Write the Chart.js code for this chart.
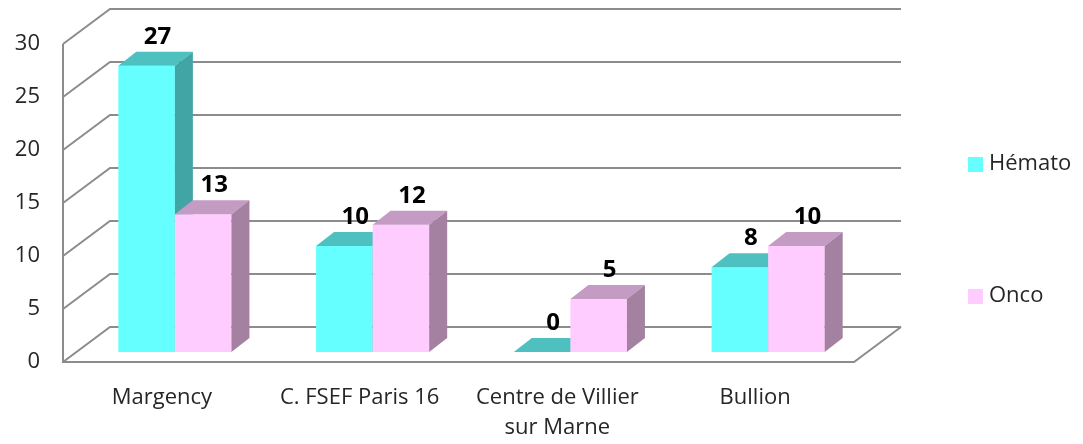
<!DOCTYPE html>
<html>
<head>
<meta charset="utf-8">
<script src="https://cdn.jsdelivr.net/npm/chart.js@4/dist/chart.umd.min.js"></script>
<style>
  html, body { margin: 0; padding: 0; background: #fff; }
  #wrap { width: 1083px; height: 444px; }
</style>
</head>
<body>
<div id="wrap"><canvas id="c" width="1083" height="444"></canvas></div>
<script>
const categories = ['Margency', 'C. FSEF Paris 16', ['Centre de Villier', 'sur Marne'], 'Bullion'];
const hemato = [27, 10, 0, 8];
const onco = [13, 12, 5, 10];
const yTicks = [0, 5, 10, 15, 20, 25, 30];

const FONT = '"Open Sans", "Noto Sans", sans-serif';

// 3d look
const wallDx = 47, wallDy = 35;     // depth of the walls
const barOffX = 13, barOffY = 10;   // bars sit a bit inside the box
const barDx = 18, barDy = 14;       // depth of each bar

const seriesStyle = [
    { front: '#66ffff', top: '#4ec0c0', side: '#41a5a5' },
    { front: '#ffccff', top: '#c39bc3', side: '#a481a1' }
];

const box3d = {
    id: 'box3d',
    beforeDatasetsDraw(chart) {
        const { ctx, chartArea: a, scales: { y } } = chart;
        ctx.save();
        ctx.strokeStyle = '#8c8c8c';
        ctx.lineWidth = 2;
        ctx.lineJoin = 'miter';
        yTicks.forEach(v => {
            const yf = y.getPixelForValue(v);
            ctx.beginPath();
            ctx.moveTo(a.left, yf);
            ctx.lineTo(a.left + wallDx, yf - wallDy);
            ctx.lineTo(a.right + wallDx, yf - wallDy);
            ctx.stroke();
        });
        // front axis + floor
        ctx.beginPath();
        ctx.moveTo(a.left, y.getPixelForValue(30));
        ctx.lineTo(a.left, a.bottom);
        ctx.lineTo(a.right, a.bottom);
        ctx.lineTo(a.right + wallDx, a.bottom - wallDy);
        ctx.stroke();
        ctx.restore();
    },
    beforeDatasetDraw() {
        return false; // bars are drawn below, in 3d
    },
    afterDatasetsDraw(chart) {
        const { ctx } = chart;
        const metas = [chart.getDatasetMeta(0), chart.getDatasetMeta(1)];
        ctx.save();
        ctx.translate(barOffX, -barOffY);
        for (let i = 0; i < categories.length; i++) {
            metas.forEach((meta, d) => {
                const bar = meta.data[i];
                const st = seriesStyle[d];
                const l = bar.x - bar.width / 2, r = bar.x + bar.width / 2;
                const t = bar.y, b = bar.base;
                // front
                ctx.fillStyle = st.front;
                ctx.fillRect(l, t, r - l, b - t);
                // top
                ctx.fillStyle = st.top;
                ctx.beginPath();
                ctx.moveTo(l, t);
                ctx.lineTo(l + barDx, t - barDy);
                ctx.lineTo(r + barDx, t - barDy);
                ctx.lineTo(r, t);
                ctx.closePath();
                ctx.fill();
                // side
                ctx.fillStyle = st.side;
                ctx.beginPath();
                ctx.moveTo(r, t);
                ctx.lineTo(r + barDx, t - barDy);
                ctx.lineTo(r + barDx, b - barDy);
                ctx.lineTo(r, b);
                ctx.closePath();
                ctx.fill();
            });
        }
        // value labels
        ctx.fillStyle = '#000';
        ctx.font = 'bold 24px ' + FONT;
        ctx.textAlign = 'center';
        ctx.textBaseline = 'alphabetic';
        metas.forEach((meta, d) => {
            const vals = d === 0 ? hemato : onco;
            meta.data.forEach((bar, i) => {
                ctx.fillText(String(vals[i]), bar.x + barDx / 2 + 2, bar.y - barDy - 8);
            });
        });
        ctx.restore();
    },
    afterDraw(chart) {
        const { ctx } = chart;
        const items = [
            { text: 'Hémato', color: seriesStyle[0].front, y: 164 },
            { text: 'Onco', color: seriesStyle[1].front, y: 296 }
        ];
        ctx.save();
        ctx.font = '22px ' + FONT;
        ctx.textBaseline = 'middle';
        ctx.textAlign = 'left';
        items.forEach(it => {
            ctx.fillStyle = it.color;
            ctx.fillRect(968, it.y - 7, 15, 15);
            ctx.fillStyle = '#262626';
            ctx.fillText(it.text, 989, it.y);
        });
        ctx.restore();
    }
};

new Chart(document.getElementById('c'), {
    type: 'bar',
    data: {
        labels: categories,
        datasets: [
            { label: 'Hémato', data: hemato, backgroundColor: seriesStyle[0].front },
            { label: 'Onco', data: onco, backgroundColor: seriesStyle[1].front }
        ]
    },
    options: {
        responsive: false,
        animation: false,
        events: [],
        layout: { padding: { top: 44, right: 229, left: 0, bottom: 0 } },
        datasets: { bar: { categoryPercentage: 0.572, barPercentage: 1 } },
        plugins: { legend: { display: false }, tooltip: { enabled: false } },
        scales: {
            x: {
                grid: { display: false, drawTicks: false },
                border: { display: false },
                ticks: { color: '#262626', font: { family: FONT, size: 22, lineHeight: 1.4 }, padding: 20, maxRotation: 0, autoSkip: false },
                afterFit(s) { s.height = 82; }
            },
            y: {
                min: 0, max: 30,
                grid: { display: false, drawTicks: false },
                border: { display: false },
                ticks: { stepSize: 5, color: '#262626', font: { family: FONT, size: 22 }, padding: 23 },
                afterFit(s) { s.width = 63; }
            }
        }
    },
    plugins: [box3d]
});
</script>
</body>
</html>
